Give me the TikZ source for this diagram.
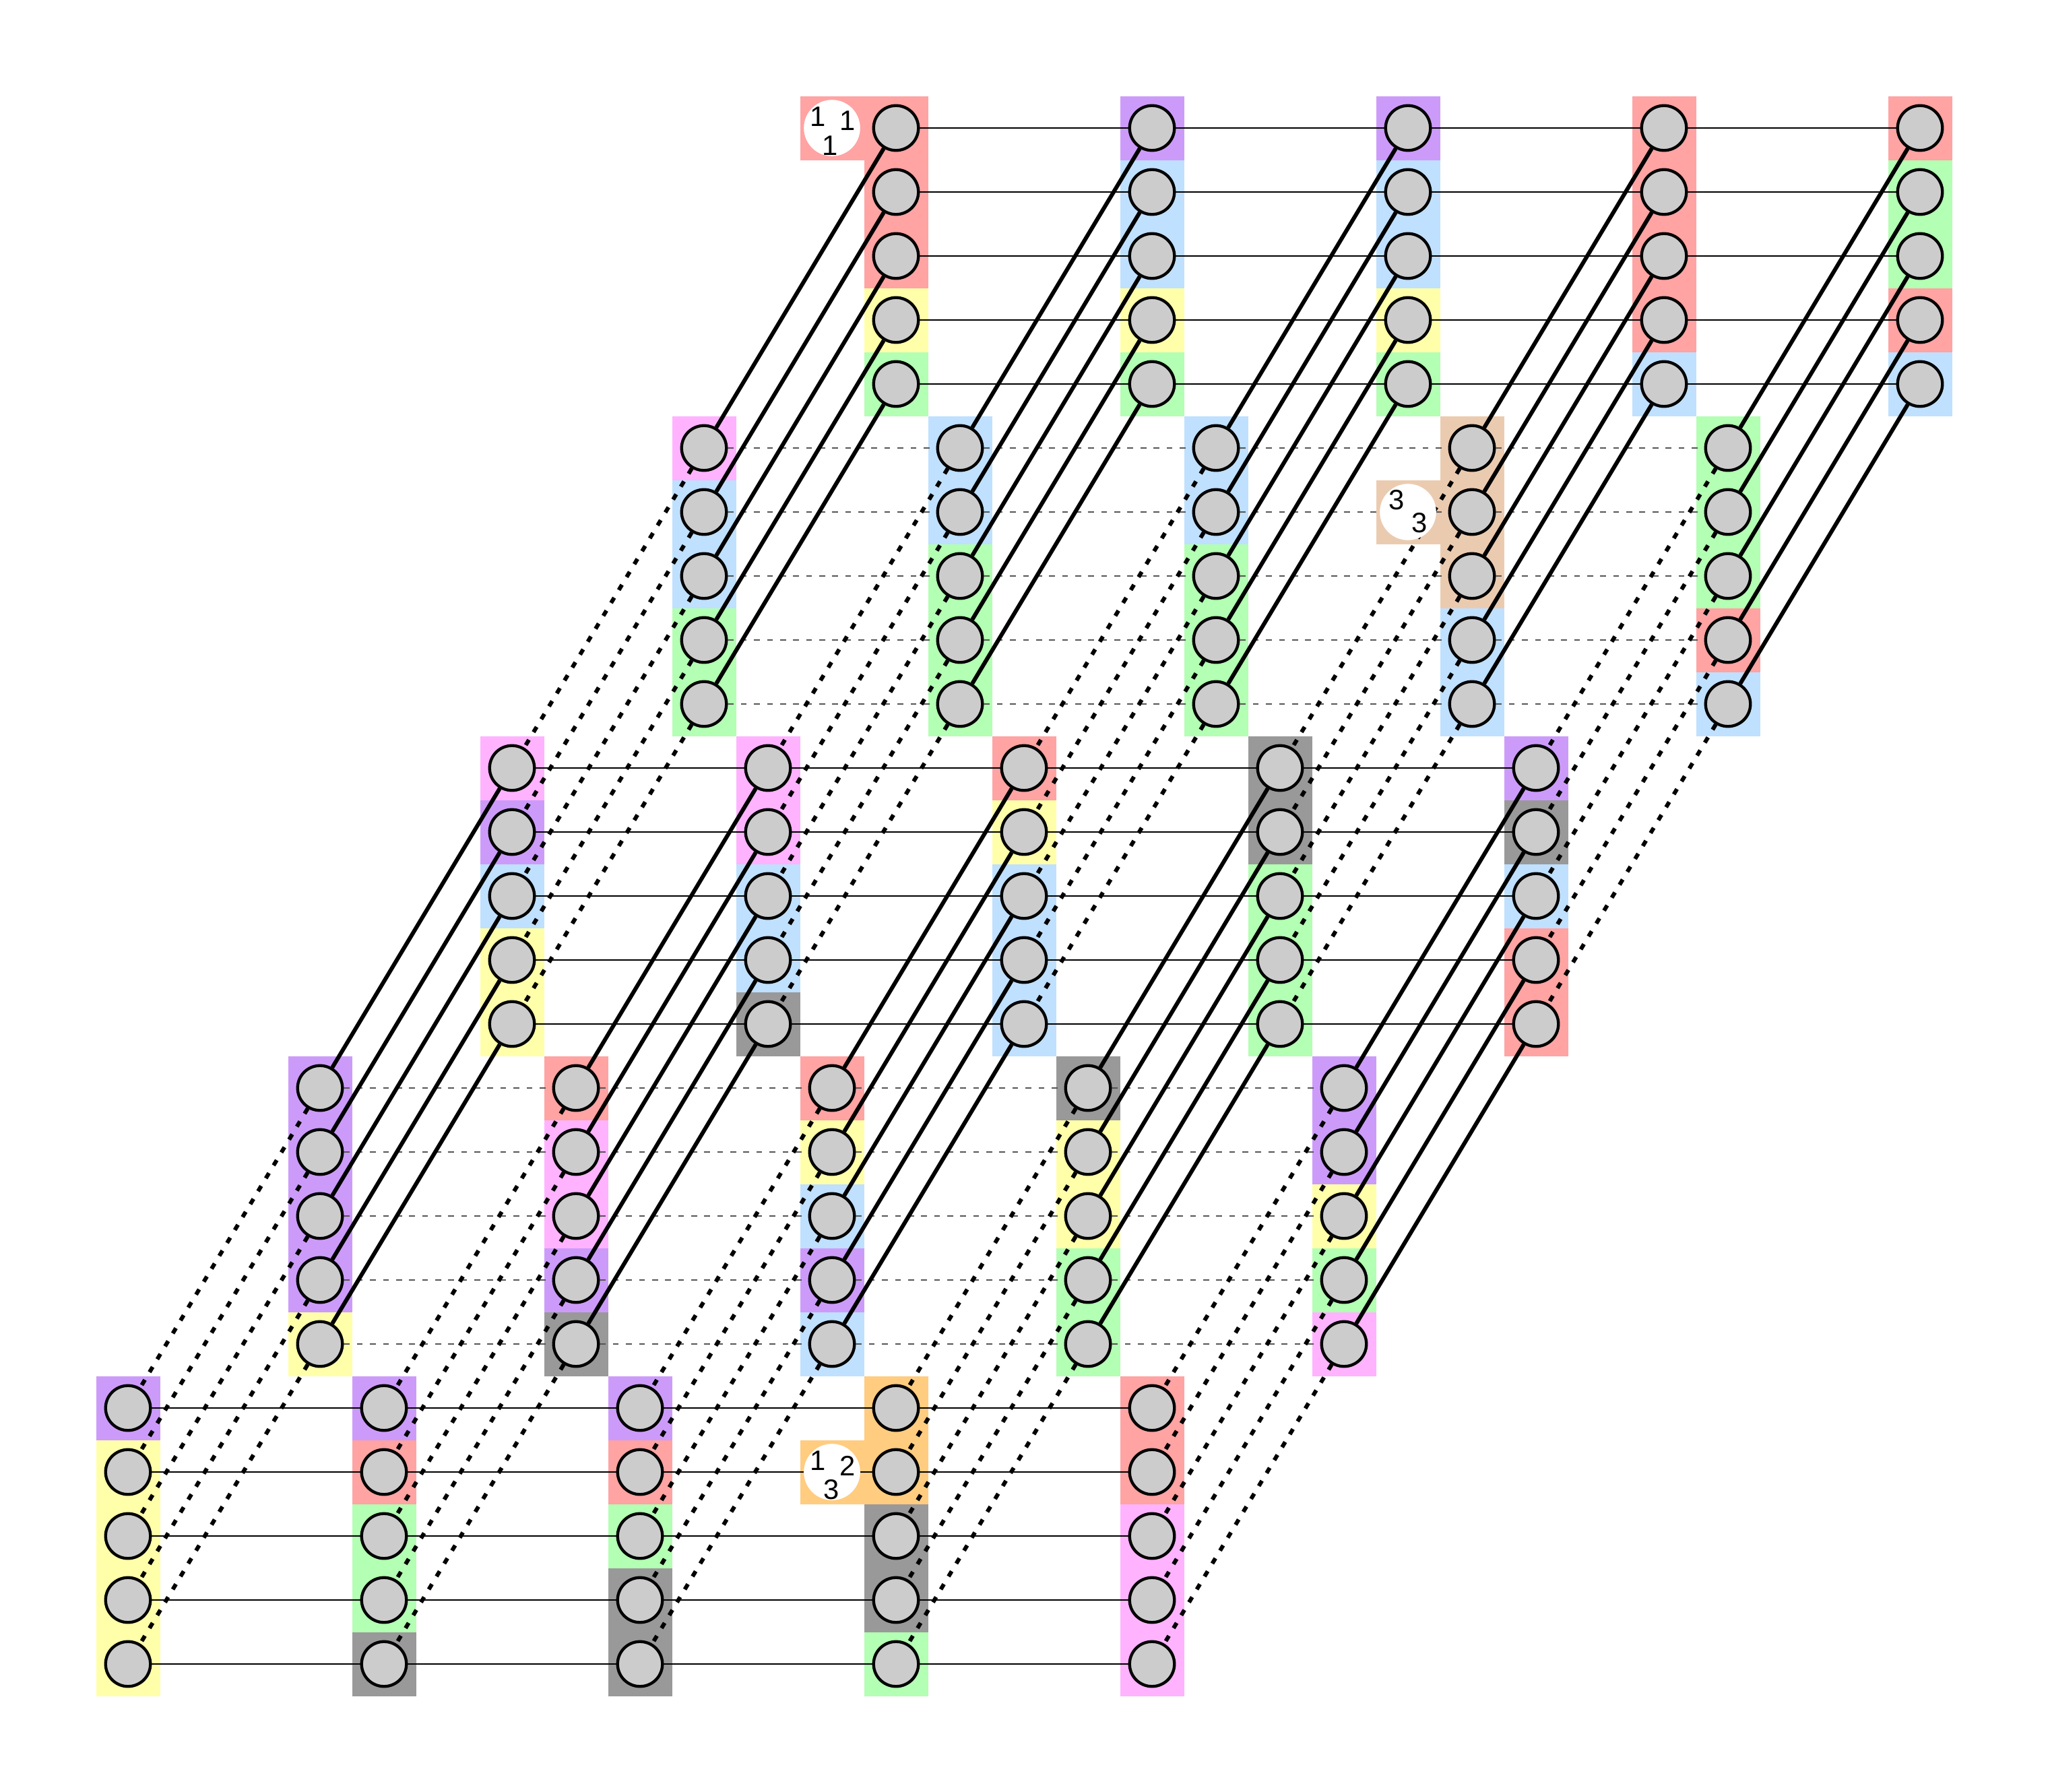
\documentclass[tikz,border=0pt]{standalone}
\usepackage{fontspec}
\setmainfont{Liberation Sans}
\usetikzlibrary{calc}
\definecolor{cR}{HTML}{FFA3A3}
\definecolor{cP}{HTML}{CC9BFA}
\definecolor{cB}{HTML}{BFE0FF}
\definecolor{cY}{HTML}{FFFFAA}
\definecolor{cG}{HTML}{B3FFB3}
\definecolor{cK}{HTML}{FFB3FF}
\definecolor{cA}{HTML}{999999}
\definecolor{cT}{HTML}{EBCBB0}
\definecolor{cO}{HTML}{FFCC80}
\definecolor{nodegray}{HTML}{CCCCCC}
\definecolor{dashgray}{HTML}{555555}
\pgfdeclarelayer{tiles}
\pgfdeclarelayer{wires}
\pgfsetlayers{tiles,wires,main}
\newcommand\tilecol[3]{\foreach \tc [count=\tr from 0] in {#3} {\fill[\tc] ({14+4*#2-3*#1-0.5},{-(2+\tr+5*#1)-0.5}) rectangle ++(1,1);}}
\tikzset{
 gnode/.style={circle,draw=black,fill=nodegray,line width=1.3pt,minimum size=0.70cm,inner sep=0pt},
 hsolid/.style={line width=0.65pt,black},
 hdash/.style={line width=0.65pt,dashgray,dash pattern=on 2.6pt off 3.2pt},
 dsolid/.style={line width=1.8pt,black},
 ddot/.style={line width=1.8pt,black,dash pattern=on 2.7pt off 4.0pt},
 lblc/.style={circle,fill=white,minimum size=0.88cm,inner sep=0pt},
 lbltxt/.style={inner sep=0pt,font=\fontsize{12.5}{12.5}\selectfont}
}
\begin{document}
\begin{tikzpicture}
\useasboundingbox (0,0) rectangle (32,-28);
% tiles
\begin{pgfonlayer}{tiles}
\tilecol{0}{0}{cR,cR,cR,cY,cG}
\tilecol{0}{1}{cP,cB,cB,cY,cG}
\tilecol{0}{2}{cP,cB,cB,cY,cG}
\tilecol{0}{3}{cR,cR,cR,cR,cB}
\tilecol{0}{4}{cR,cG,cG,cR,cB}
\tilecol{1}{0}{cK,cB,cB,cG,cG}
\tilecol{1}{1}{cB,cB,cG,cG,cG}
\tilecol{1}{2}{cB,cB,cG,cG,cG}
\tilecol{1}{3}{cT,cT,cT,cB,cB}
\tilecol{1}{4}{cG,cG,cG,cR,cB}
\tilecol{2}{0}{cK,cP,cB,cY,cY}
\tilecol{2}{1}{cK,cK,cB,cB,cA}
\tilecol{2}{2}{cR,cY,cB,cB,cB}
\tilecol{2}{3}{cA,cA,cG,cG,cG}
\tilecol{2}{4}{cP,cA,cB,cR,cR}
\tilecol{3}{0}{cP,cP,cP,cP,cY}
\tilecol{3}{1}{cR,cK,cK,cP,cA}
\tilecol{3}{2}{cR,cY,cB,cP,cB}
\tilecol{3}{3}{cA,cY,cY,cG,cG}
\tilecol{3}{4}{cP,cP,cY,cG,cK}
\tilecol{4}{0}{cP,cY,cY,cY,cY}
\tilecol{4}{1}{cP,cR,cG,cG,cA}
\tilecol{4}{2}{cP,cR,cG,cA,cA}
\tilecol{4}{3}{cO,cO,cA,cA,cG}
\tilecol{4}{4}{cR,cR,cK,cK,cK}
\fill[cR] (12.5,-2.5) rectangle ++(1,1);
\fill[cT] (21.5,-8.5) rectangle ++(1,1);
\fill[cO] (12.5,-23.5) rectangle ++(1,1);
\end{pgfonlayer}
% nodes
\foreach \L in {0,...,4}{\foreach \c in {0,...,4}{\foreach \r in {0,...,4}{
 \node[gnode] (n\L\c\r) at ({14+4*\c-3*\L},{-(2+\r+5*\L)}) {};
}}}
% connectors
\begin{pgfonlayer}{wires}
\foreach \L in {0,2,4}{\foreach \c [evaluate=\c as \cn using {int(\c+1)}] in {0,...,3}{\foreach \r in {0,...,4}{
 \draw[hsolid] (n\L\c\r) -- (n\L\cn\r);}}}
\foreach \L in {1,3}{\foreach \c [evaluate=\c as \cn using {int(\c+1)}] in {0,...,3}{\foreach \r in {0,...,4}{
 \draw[hdash] (n\L\c\r) -- (n\L\cn\r);}}}
\foreach \L [evaluate=\L as \Ln using {int(\L+1)}] in {0,2}{\foreach \c in {0,...,4}{\foreach \r in {0,...,4}{
 \draw[dsolid] (n\L\c\r) -- (n\Ln\c\r);}}}
\foreach \L [evaluate=\L as \Ln using {int(\L+1)}] in {1,3}{\foreach \c in {0,...,4}{\foreach \r in {0,...,4}{
 \draw[ddot] (n\L\c\r) -- (n\Ln\c\r);}}}
\end{pgfonlayer}
% labels
\node[lblc] (la) at (13,-2) {};
\node[lbltxt] (la1) at ($(la)+(-0.22,0.18)$) {1};
\node[lbltxt] (la2) at ($(la)+(0.24,0.11)$) {1};
\node[lbltxt] (la3) at ($(la)+(-0.03,-0.28)$) {1};
\node[lblc] (lb) at (22,-8) {};
\node[lbltxt] (lb1) at ($(lb)+(-0.18,0.19)$) {3};
\node[lbltxt] (lb2) at ($(lb)+(0.18,-0.17)$) {3};
\node[lblc] (lc) at (13,-23) {};
\node[lbltxt] (lc1) at ($(lc)+(-0.22,0.18)$) {1};
\node[lbltxt] (lc2) at ($(lc)+(0.24,0.10)$) {2};
\node[lbltxt] (lc3) at ($(lc)+(-0.01,-0.28)$) {3};
\end{tikzpicture}
\end{document}
